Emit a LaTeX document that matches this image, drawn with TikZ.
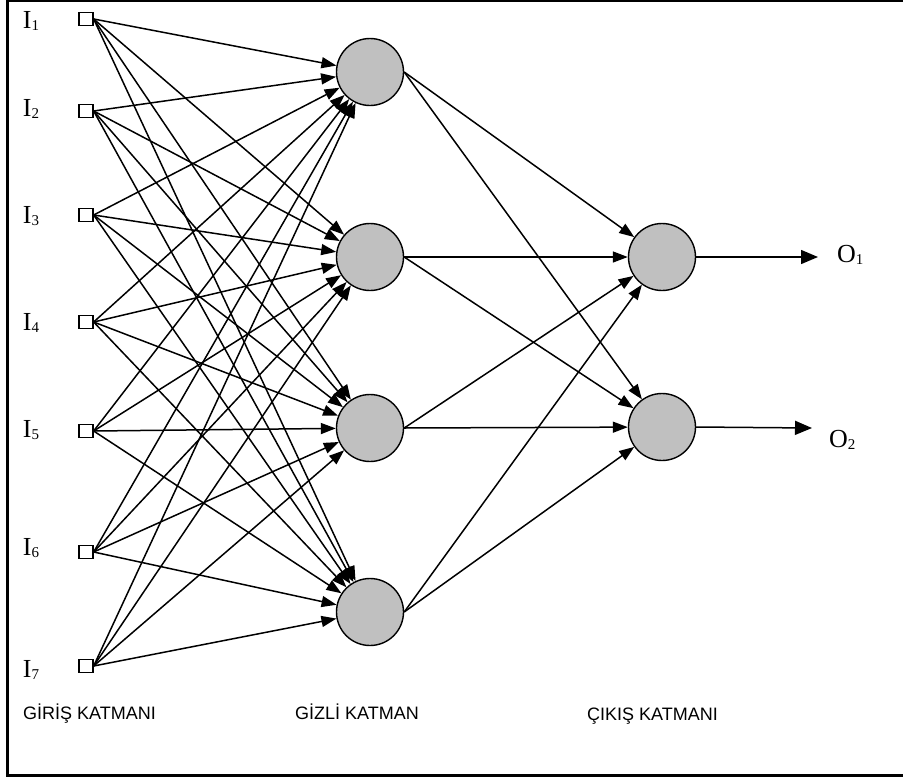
\documentclass[tikz,border=0pt]{standalone}
\usepackage{fontspec}
\setmainfont{Liberation Serif}
\newfontfamily\lsans{Liberation Sans}
\usetikzlibrary{arrows.meta}
\definecolor{nodegray}{RGB}{192,192,192}
\newcommand\subnum[1]{\raisebox{-2.5pt}{\fontsize{15}{15}\selectfont #1}}
\begin{document}
\begin{tikzpicture}[x=1pt,y=-1pt,
  inp/.style={draw, line width=1.3pt, fill=white, minimum width=14pt, minimum height=13pt, inner sep=0pt},
  neuron/.style={circle, draw, line width=1.4pt, fill=nodegray, minimum size=67pt, inner sep=0pt},
  conn/.style={line width=1.5pt, -{Triangle[length=15pt,width=11pt]}},
  outarr/.style={line width=1.5pt, -{Triangle[length=17pt,width=14pt]}},
  ilabel/.style={anchor=base, inner sep=0pt, font=\fontsize{26}{26}\selectfont},
  layerlabel/.style={anchor=base west, inner sep=0pt, font=\lsans\fontsize{18}{18}\selectfont}]
\useasboundingbox (0,0) rectangle (903,780);
\clip (0,0) rectangle (903,780);
\draw[line width=2.6pt] (915,0.8) -- (7.5,0.8) -- (7.5,775.5) -- (915,775.5);

% input squares and labels
\foreach \i/\y/\b in {1/19/28, 2/111/116, 3/215/223, 4/322/330, 5/431/437, 6/552/555, 7/666/677} {
  \node[inp] (I\i) at (86,\y) {};
  \node[ilabel] (LI\i) at (31,\b) {I\subnum{\i}};
}

% hidden neurons
\foreach \j/\y in {1/72, 2/257, 3/428, 4/612}
  \node[neuron] (H\j) at (370,\y) {};

% output neurons
\node[neuron] (O1) at (662,257) {};
\node[neuron] (O2) at (662,427) {};

% connections input -> hidden
\foreach \i in {1,...,7}
  \foreach \j in {1,...,4}
    \draw[conn] (I\i.east) -- (H\j);

% connections hidden -> output
\foreach \j in {1,...,4}
  \foreach \k in {1,2}
    \draw[conn] (H\j.east) -- (O\k);

% output arrows
\coordinate (E1) at (818,257);
\coordinate (E2) at (812,428);
\draw[outarr] (O1.east) -- (E1);
\draw[outarr] (O2.east) -- (E2);
\node[ilabel, anchor=base west] (LO1) at (837,262) {O\subnum{1}};
\node[ilabel, anchor=base west] (LO2) at (829,447) {O\subnum{2}};

% layer labels
\node[layerlabel] (LG) at (23,719) {GİRİŞ KATMANI};
\node[layerlabel] (LH) at (295,719) {GİZLİ KATMAN};
\node[layerlabel] (LC) at (587,720) {ÇIKIŞ KATMANI};
\end{tikzpicture}
\end{document}
